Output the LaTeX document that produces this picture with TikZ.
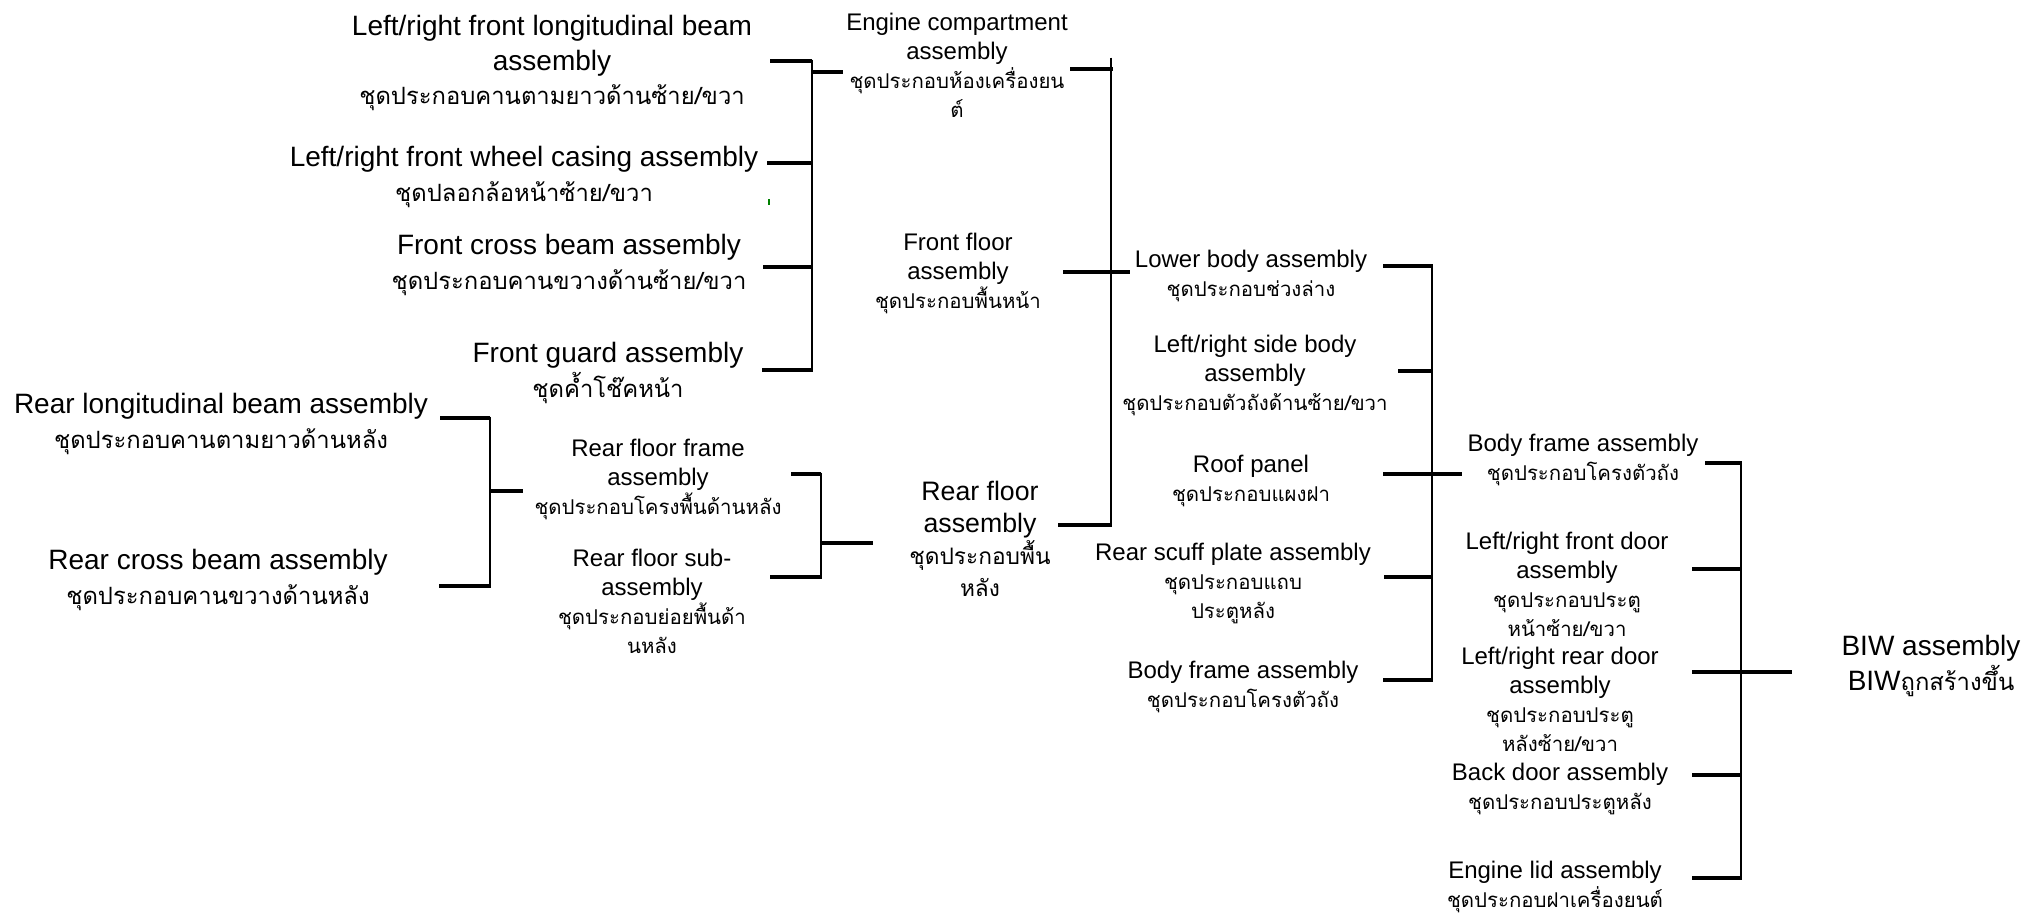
\documentclass[tikz,border=0pt]{standalone}
\usepackage{fontspec}
\usetikzlibrary{calc}
\setmainfont{Liberation Sans}
\newfontfamily\thai[Script=Thai,Scale=0.85]{Loma}
\begin{document}
\begin{tikzpicture}[x=1pt,y=-1pt,
  lab/.style={align=center, inner sep=0pt},
  big/.style={lab, font=\fontsize{28}{34.5}\selectfont},
  mid/.style={lab, font=\fontsize{26.7}{32}\selectfont},
  small/.style={lab, font=\fontsize{24}{29}\selectfont},
  stub/.style={line width=4pt},
  vbar/.style={line width=2pt, shorten <=-1.5pt, shorten >=-1.5pt}]
\useasboundingbox[fill=white] (0,0) rectangle (2038,916);

% ---------- labels ----------
\node[big] (rlb) at (221,424) {Rear longitudinal beam assembly\\{\thai ชุดประกอบคานตามยาวด้านหลัง}};
\node[big] (rcb) at (218,580) {Rear cross beam assembly\\{\thai ชุดประกอบคานขวางด้านหลัง}};

\node[big] (flb) at (552,63) {Left/right front longitudinal beam\\assembly\\{\thai ชุดประกอบคานตามยาวด้านซ้าย/ขวา}};
\node[big] (fwc) at (524,177) {Left/right front wheel casing assembly\\{\thai ชุดปลอกล้อหน้าซ้าย/ขวา}};
\node[big] (fcb) at (569,265) {Front cross beam assembly\\{\thai ชุดประกอบคานขวางด้านซ้าย/ขวา}};
\node[big] (fg)  at (608,373) {Front guard assembly\\{\thai ชุดค้ำโช๊คหน้า}};

\node[small] (ec) at (957,65) {Engine compartment\\assembly\\{\thai ชุดประกอบห้องเครื่องยน}\\{\thai ต์}};
\node[small] (ff) at (958,273) {Front floor\\assembly\\{\thai ชุดประกอบพื้นหน้า}};
\node[small] (rff) at (658,479) {Rear floor frame\\assembly\\{\thai ชุดประกอบโครงพื้นด้านหลัง}};
\node[small] (rfs) at (652,601) {Rear floor sub-\\assembly\\{\thai ชุดประกอบย่อยพื้นด้า}\\{\thai นหลัง}};
\node[mid] (rf) at (980,539) {Rear floor\\assembly\\{\thai ชุดประกอบพื้น}\\{\thai หลัง}};

\node[small] (lb) at (1251,276) {Lower body assembly\\{\thai ชุดประกอบช่วงล่าง}};
\node[small] (sb) at (1255,375) {Left/right side body\\assembly\\{\thai ชุดประกอบตัวถังด้านซ้าย/ขวา}};
\node[small] (rp) at (1251,481) {Roof panel\\{\thai ชุดประกอบแผงฝา}};
\node[small] (rsp) at (1233,583) {Rear scuff plate assembly\\{\thai ชุดประกอบแถบ}\\{\thai ประตูหลัง}};
\node[small] (bfa) at (1243,687) {Body frame assembly\\{\thai ชุดประกอบโครงตัวถัง}};

\node[small] (bfb) at (1583,460) {Body frame assembly\\{\thai ชุดประกอบโครงตัวถัง}};
\node[small] (fd) at (1567,584) {Left/right front door\\assembly\\{\thai ชุดประกอบประตู}\\{\thai หน้าซ้าย/ขวา}};
\node[small] (rd) at (1560,699) {Left/right rear door\\assembly\\{\thai ชุดประกอบประตู}\\{\thai หลังซ้าย/ขวา}};
\node[small] (bd) at (1560,789) {Back door assembly\\{\thai ชุดประกอบประตูหลัง}};
\node[small] (el) at (1555,887) {Engine lid assembly\\{\thai ชุดประกอบฝาเครื่องยนต์}};

\node[big] (biw) at (1931,666) {BIW assembly\\BIW{\thai ถูกสร้างขึ้น}};

% ---------- connector points ----------
\coordinate (a1) at (440,418); \coordinate (a1j) at (490,418);
\coordinate (a2) at (439,586); \coordinate (a2j) at (490,586);
\coordinate (aoj) at (490,491); \coordinate (ao) at (523,491);
\coordinate (b1) at (770,61);  \coordinate (b1j) at (812,61);
\coordinate (b2) at (767,163); \coordinate (b2j) at (812,163);
\coordinate (b3) at (763,267); \coordinate (b3j) at (812,267);
\coordinate (b4) at (762,370); \coordinate (b4j) at (812,370);
\coordinate (boj) at (812,72); \coordinate (bo) at (843,72);
\coordinate (r1) at (791,474); \coordinate (r1j) at (821,474);
\coordinate (r2) at (770,577); \coordinate (r2j) at (821,577);
\coordinate (roj) at (821,543); \coordinate (ro) at (873,543);
\coordinate (ctop) at (1111,59);
\coordinate (c1) at (1070,69); \coordinate (c1j) at (1113,69);
\coordinate (c2) at (1063,272); \coordinate (co) at (1130,272);
\coordinate (c3) at (1058,525); \coordinate (c3j) at (1111,525);
\coordinate (d1) at (1383,266); \coordinate (d1j) at (1433,266);
\coordinate (d2) at (1398,371); \coordinate (d2j) at (1433,371);
\coordinate (d3) at (1383,474); \coordinate (do) at (1462,474);
\coordinate (d4) at (1384,577); \coordinate (d4j) at (1433,577);
\coordinate (d5) at (1383,680); \coordinate (d5j) at (1433,680);
\coordinate (e1) at (1705,463); \coordinate (e1j) at (1742,463);
\coordinate (e2) at (1692,569); \coordinate (e2j) at (1742,569);
\coordinate (e3) at (1692,672); \coordinate (eo) at (1792,672);
\coordinate (e4) at (1692,775); \coordinate (e4j) at (1742,775);
\coordinate (e5) at (1692,878); \coordinate (e5j) at (1742,878);
\coordinate (g1) at (769,199); \coordinate (g2) at (769,205);

% ---------- connectors ----------
\draw[stub] (a1)--(a1j); \draw[stub] (a2)--(a2j);
\draw[vbar] (a1j)--(a2j); \draw[stub] (aoj)--(ao);

\draw[stub] (b1)--(b1j); \draw[stub] (b2)--(b2j);
\draw[stub] (b3)--(b3j); \draw[stub] (b4)--(b4j);
\draw[vbar] (b1j)--(b4j); \draw[stub] (boj)--(bo);

\draw[stub] (r1)--(r1j); \draw[stub] (r2)--(r2j);
\draw[vbar] (r1j)--(r2j); \draw[stub] (roj)--(ro);

\draw[vbar] (ctop)--(c3j);
\draw[stub] (c1)--(c1j); \draw[stub] (c2)--(co); \draw[stub] (c3)--(c3j);

\draw[stub] (d1)--(d1j); \draw[stub] (d2)--(d2j); \draw[stub] (d3)--(do);
\draw[stub] (d4)--(d4j); \draw[stub] (d5)--(d5j);
\draw[vbar] ($(d1j)+(-1,0)$)--($(d5j)+(-1,0)$);

\draw[stub] (e1)--(e1j); \draw[stub] (e2)--(e2j); \draw[stub] (e3)--(eo);
\draw[stub] (e4)--(e4j); \draw[stub] (e5)--(e5j);
\draw[vbar] ($(e1j)+(-1,0)$)--($(e5j)+(-1,0)$);

\draw[green!50!black, line width=1.5pt] (g1)--(g2);
\end{tikzpicture}
\end{document}
